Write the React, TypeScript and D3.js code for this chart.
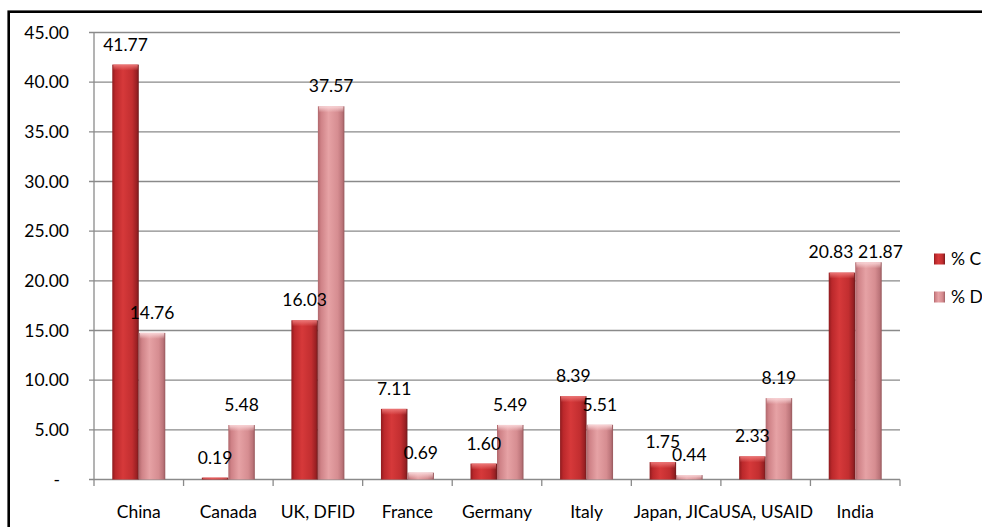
import React from "react";
import * as d3 from "d3";

const categories = ["China", "Canada", "UK, DFID", "France", "Germany", "Italy", "Japan, JICa", "USA, USAID", "India"];
const seriesNames = ["% C", "% D"];
const valuesC = [41.77, 0.19, 16.03, 7.11, 1.6, 8.39, 1.75, 2.33, 20.83];
const valuesD = [14.76, 5.48, 37.57, 0.69, 5.49, 5.51, 0.44, 8.19, 21.87];
const yTicks = [0, 5, 10, 15, 20, 25, 30, 35, 40, 45];

const W = 982;
const H = 527;
const left = 94;
const right = 900;
const top = 32.5;
const bottom = 479.5;
const FONT = "Lato, 'Open Sans', sans-serif";
const FS = 17.5;

export default function App() {
  const x = d3.scaleBand<string>().domain(categories).range([left, right]).paddingInner(0).paddingOuter(0);
  const inner = d3.scaleBand<string>().domain(seriesNames).range([0, x.bandwidth()]).paddingInner(0).paddingOuter(0.69);
  const y = d3.scaleLinear().domain([0, 45]).range([bottom, top]);
  const fmt = (v: number) => (v === 0 ? "-" : d3.format(".2f")(v));
  const series = [valuesC, valuesD];
  const grads = ["gC", "gD"];
  const tops = ["tC", "tD"];
  const bounds = [...categories.map((c) => x(c) as number), right];

  return (
    <svg width={W} height={H} style={{ position: "absolute", left: 0, top: 0, background: "#fff" }} fontFamily={FONT}>
      <defs>
        <linearGradient id="gC" x1="0" x2="1" y1="0" y2="0">
          <stop offset="0%" stopColor="#8e1b1e" />
          <stop offset="12%" stopColor="#bb282b" />
          <stop offset="40%" stopColor="#d6393a" />
          <stop offset="75%" stopColor="#c22e30" />
          <stop offset="92%" stopColor="#9a2023" />
          <stop offset="100%" stopColor="#6e1a1c" />
        </linearGradient>
        <linearGradient id="gD" x1="0" x2="1" y1="0" y2="0">
          <stop offset="0%" stopColor="#b0676c" />
          <stop offset="12%" stopColor="#cf8287" />
          <stop offset="40%" stopColor="#e6a2a5" />
          <stop offset="75%" stopColor="#d68d91" />
          <stop offset="92%" stopColor="#bb7479" />
          <stop offset="100%" stopColor="#96585c" />
        </linearGradient>
        <linearGradient id="tC" x1="0" x2="0" y1="0" y2="1">
          <stop offset="0%" stopColor="#ee7a7a" stopOpacity="0.95" />
          <stop offset="100%" stopColor="#ee7a7a" stopOpacity="0" />
        </linearGradient>
        <linearGradient id="tD" x1="0" x2="0" y1="0" y2="1">
          <stop offset="0%" stopColor="#fad8da" stopOpacity="0.95" />
          <stop offset="100%" stopColor="#fad8da" stopOpacity="0" />
        </linearGradient>
      </defs>

      {yTicks.map((t) => (
        <g key={t}>
          <line x1={left - 5} x2={right} y1={y(t)} y2={y(t)} stroke="#8a8a8a" strokeWidth={1.3} />
          <text x={t === 0 ? left - 34 : left - 25} y={y(t)} dy="0.36em" textAnchor="end" fontSize={FS} fill="#000">
            {fmt(t)}
          </text>
        </g>
      ))}
      <line x1={left} x2={left} y1={top} y2={bottom} stroke="#8a8a8a" strokeWidth={1.3} />
      {bounds.map((b, i) => (
        <line key={i} x1={b} x2={b} y1={bottom} y2={bottom + 6.5} stroke="#8a8a8a" strokeWidth={1.3} />
      ))}

      {categories.map((c, ci) => {
        const yc = y(valuesC[ci]);
        const yd = y(valuesD[ci]);
        const crowded = Math.abs(yc - yd) < 12;
        return (
          <g key={c}>
            {series.map((vals, si) => {
              const bx = (x(c) as number) + (inner(seriesNames[si]) as number);
              const bw = inner.bandwidth();
              const by = y(vals[ci]);
              const bh = bottom - by;
              return (
                <g key={si}>
                  <rect x={bx} y={by} width={bw} height={bh} fill={`url(#${grads[si]})`} />
                  <rect x={bx + 1} y={by} width={bw - 2} height={Math.min(6, bh)} fill={`url(#${tops[si]})`} />
                </g>
              );
            })}
            {series.map((vals, si) => {
              const cx = (x(c) as number) + (inner(seriesNames[si]) as number) + inner.bandwidth() / 2;
              const shift = crowded ? (si === 0 ? -11 : 12) : 0;
              const ly = crowded ? Math.min(yc, yd) - 4 : y(vals[ci]) - 14;
              return (
                <text key={"l" + si} x={cx + shift} y={ly} textAnchor="middle" fontSize={FS} fill="#000">
                  {fmt(vals[ci])}
                </text>
              );
            })}
            <text x={(x(c) as number) + x.bandwidth() / 2} y={517.5} textAnchor="middle" fontSize={FS} fill="#000">
              {c}
            </text>
          </g>
        );
      })}

      {seriesNames.map((s, i) => (
        <g key={s}>
          <rect x={934} y={253.5 + i * 38} width={11} height={11} fill={`url(#${grads[i]})`} />
          <text x={951} y={259 + i * 38} dy="0.36em" fontSize={FS} fill="#000">
            {s}
          </text>
        </g>
      ))}

      <rect x={8.7} y={11.7} width={W + 20} height={H + 20} fill="none" stroke="#000" strokeWidth={2.6} />
    </svg>
  );
}
